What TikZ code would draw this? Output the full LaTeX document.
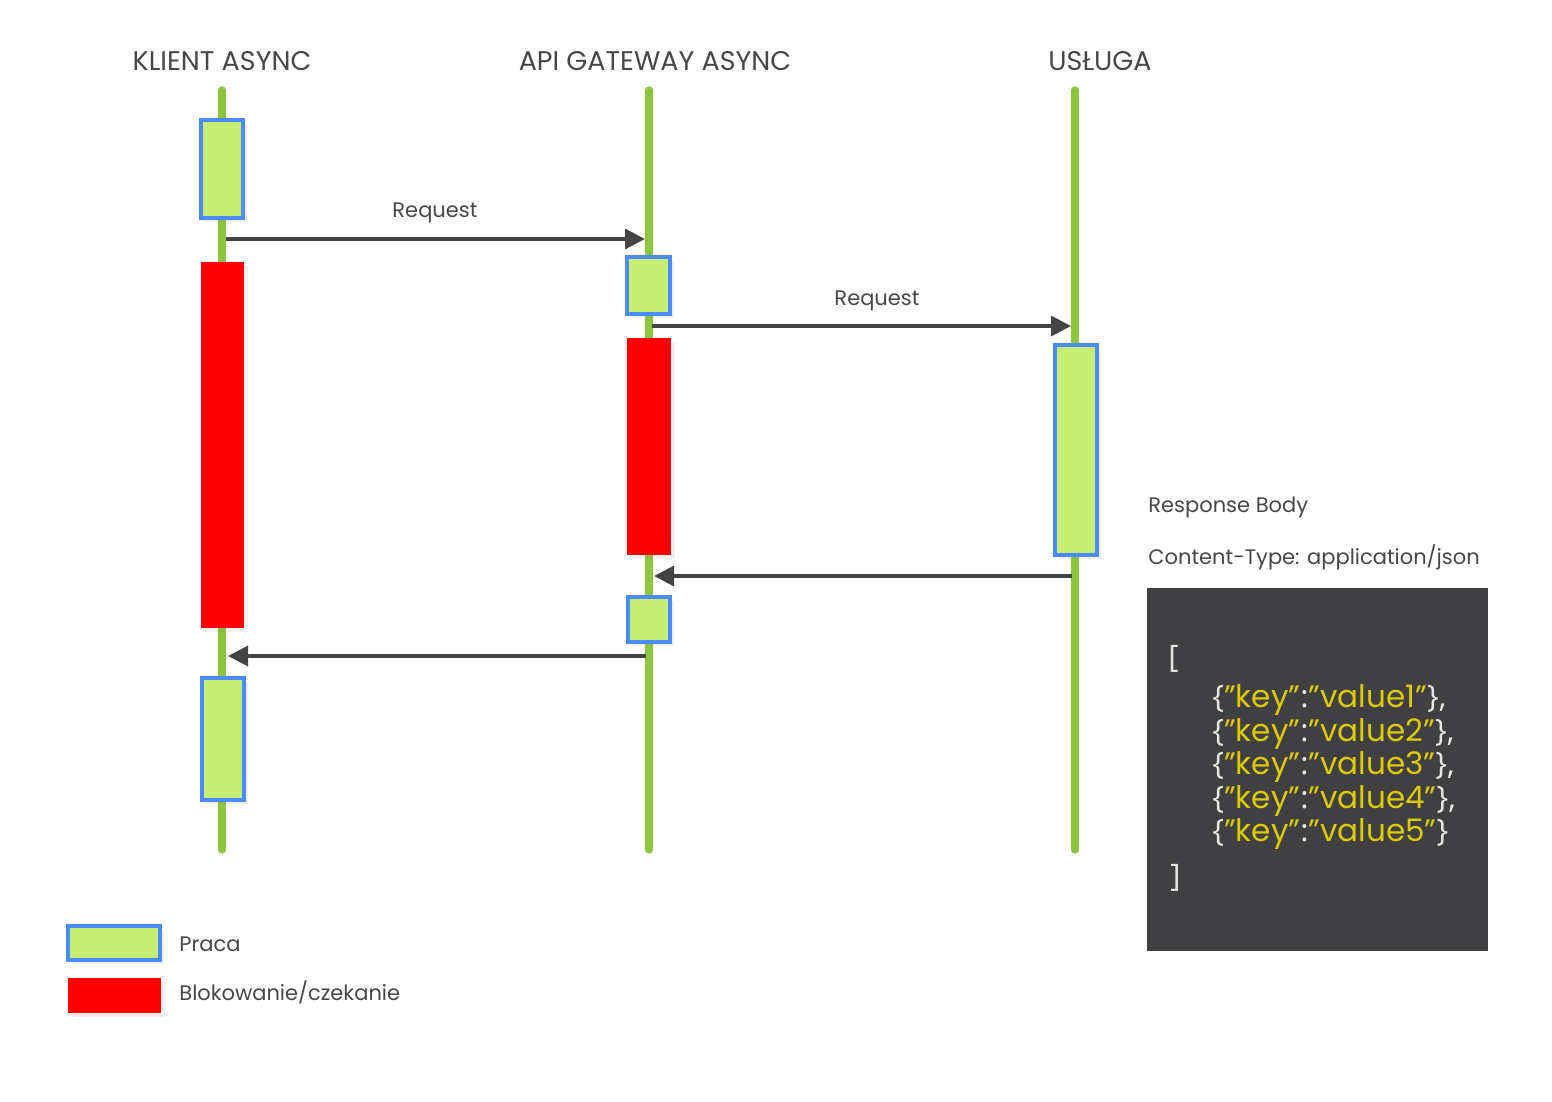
\documentclass[tikz,border=0pt]{standalone}
\usepackage{fontspec}
\setmainfont{Poppins}
\newfontfamily\bracefont{Open Sans}
\usetikzlibrary{arrows.meta,shadows}
\definecolor{life}{HTML}{8CC63E}
\definecolor{workfill}{HTML}{C5EE72}
\definecolor{workline}{HTML}{4A8CFF}
\definecolor{block}{HTML}{FF0000}
\definecolor{msg}{HTML}{444444}
\definecolor{txt}{HTML}{474747}
\definecolor{code}{HTML}{404042}
\definecolor{jkey}{HTML}{DCCB00}
\definecolor{jpunct}{HTML}{E6E6E6}
\newcommand{\jp}[1]{{\color{jpunct}\bracefont #1}}

\begin{document}
\begin{tikzpicture}[x=0.5pt, y=-0.5pt, font=\fontsize{10.5}{12}\selectfont,
    lifeline/.style={life, line width=3.6pt, line cap=round},
    work/.style={draw=workline, fill=workfill, line width=2pt, inner sep=0pt,
      drop shadow={opacity=0.12, shadow xshift=2pt, shadow yshift=-2pt}},
    blocked/.style={fill=block, inner sep=0pt,
      drop shadow={opacity=0.12, shadow xshift=2pt, shadow yshift=-2pt}},
    call/.style={msg, line width=1.6pt, -{Triangle[length=10pt, width=10pt]}},
    header/.style={txt, font=\fontsize{13.5}{16}\selectfont},
    label/.style={txt}]
  \useasboundingbox (0,0) rectangle (1552,1102);
  \def\xk{222}     % klient
  \def\xa{649}     % api gateway
  \def\xu{1075}    % usluga
  \def\px{0.5pt}
  % lifelines
  \foreach \x/\n in {\xk/k, \xa/a, \xu/u} {
    \coordinate (\n top) at (\x,90);
    \coordinate (\n bot) at (\x,850);
    \draw[lifeline] (\n top) -- (\n bot);
  }
  % headers
  \node[header] (hk) at (222,61) {KLIENT ASYNC};
  \node[header] (ha) at (655,61) {API GATEWAY ASYNC};
  \node[header] (hu) at (1100,61) {USŁUGA};
  % activity boxes
  \node[work, minimum width=42*\px, minimum height=98*\px] (k1) at (222,169) {};
  \node[blocked, minimum width=43*\px, minimum height=366*\px] (k2) at (222.5,445) {};
  \node[work, minimum width=42*\px, minimum height=122*\px] (k3) at (223,739) {};
  \node[work, minimum width=43*\px, minimum height=57*\px] (a1) at (648.5,285.5) {};
  \node[blocked, minimum width=44*\px, minimum height=217*\px] (a2) at (649,446.5) {};
  \node[work, minimum width=42*\px, minimum height=45*\px] (a3) at (649,619.5) {};
  \node[work, minimum width=42*\px, minimum height=210*\px] (u1) at (1076,450) {};
  % messages
  \coordinate (m1s) at (226,239);  \coordinate (m1e) at (645,239);
  \coordinate (m2s) at (652,326);  \coordinate (m2e) at (1071,326);
  \coordinate (m3s) at (1072,576); \coordinate (m3e) at (654,576);
  \coordinate (m4s) at (646,656);  \coordinate (m4e) at (228,656);
  \draw[call] (m1s) -- (m1e);
  \draw[call] (m2s) -- (m2e);
  \draw[call] (m3s) -- (m3e);
  \draw[call] (m4s) -- (m4e);
  \node[label] (r1) at (435,213) {Request};
  \node[label] (r2) at (877,301) {Request};
  % response body
  \node[label, anchor=west, inner sep=0pt] (rb) at (1148,507) {Response Body};
  \node[label, anchor=west, inner sep=0pt] (ct) at (1148,557) {Content-Type: application/json};
  \fill[code] (1147,588) rectangle (1488,951);
  \begin{scope}[font=\fontsize{15.5}{18}\selectfont]
    \node[anchor=west, inner sep=0pt] (jo) at (1168,659) {\jp{[}};
    \foreach \i/\y/\c in {1/700/{,}, 2/734/{,}, 3/767/{,}, 4/801/{,}, 5/834/{}}
      \node[anchor=west, inner sep=0pt] (j\i) at (1212,\y)
        {\jp{\{}\color{jkey}"key"\jp{:}\color{jkey}"value\i"\jp{\}\c}};
    \node[anchor=west, inner sep=0pt] (jc) at (1170,878) {\jp{]}};
  \end{scope}
  % legend
  \node[work, minimum width=92*\px, minimum height=34*\px] (lw) at (114,943) {};
  \node[blocked, minimum width=93*\px, minimum height=35*\px] (lb) at (114.5,995.5) {};
  \node[label, anchor=west, inner sep=0pt] (lwt) at (179,944) {Praca};
  \node[label, anchor=west, inner sep=0pt] (lbt) at (179,992) {Blokowanie/czekanie};
\end{tikzpicture}
\end{document}
